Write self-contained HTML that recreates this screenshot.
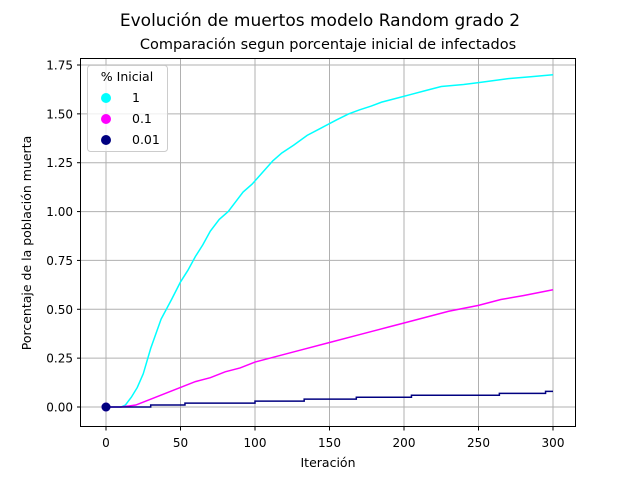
<!DOCTYPE html>
<html><head><meta charset="utf-8"><style>
body{margin:0;background:#fff}
svg{font-family:"DejaVu Sans","Liberation Sans",sans-serif}
</style></head><body>
<svg id="c" width="640" height="480" xmlns="http://www.w3.org/2000/svg">
<rect width="640" height="480" fill="#fff"/>
<text x="320" y="26" font-size="17" text-anchor="middle">Evolución de muertos modelo Random grado 2</text>
<text x="328" y="49" font-size="14.5" text-anchor="middle">Comparación segun porcentaje inicial de infectados</text>
<g id="grid"></g>
<g id="ticks"></g>
<g id="series"></g>
<rect x="80.5" y="58.5" width="495" height="368" fill="none" stroke="#000" stroke-width="1"/>
<text x="328" y="467" font-size="12.5" text-anchor="middle">Iteración</text>
<text transform="translate(31,243) rotate(-90)" font-size="12.5" text-anchor="middle">Porcentaje de la población muerta</text>
<g>
<rect x="87.5" y="65.5" width="80" height="86" rx="3" fill="#fff" fill-opacity="0.8" stroke="#ccc"/>
<text x="127" y="81" font-size="12.5" text-anchor="middle">% Inicial</text>
<circle cx="106" cy="98" r="5" fill="#00ffff"/>
<text x="132" y="102" font-size="12.5">1</text>
<circle cx="106" cy="119" r="5" fill="#ff00ff"/>
<text x="132" y="123" font-size="12.5">0.1</text>
<circle cx="106" cy="140" r="5" fill="#000080"/>
<text x="132" y="144" font-size="12.5">0.01</text>
</g>
</svg>
<script>
const xTicks=[0,50,100,150,200,250,300];
const yTicks=[0,0.25,0.5,0.75,1.0,1.25,1.5,1.75];
const yTickLabels=["0.00","0.25","0.50","0.75","1.00","1.25","1.50","1.75"];
const cyanX=[0,10,13,17,21,25,30,37,44,50,55,60,65,70,76,82,87,92,98,105,112,118,126,135,145,155,163,170,178,185,195,205,215,225,240,250,260,270,285,300];
const cyanY=[0,0,0.01,0.05,0.1,0.17,0.3,0.45,0.55,0.64,0.7,0.77,0.83,0.9,0.96,1.0,1.05,1.1,1.14,1.2,1.26,1.3,1.34,1.39,1.43,1.47,1.5,1.52,1.54,1.56,1.58,1.6,1.62,1.64,1.65,1.66,1.67,1.68,1.69,1.7];
const magX=[0,10,20,30,40,50,60,70,80,90,100,115,130,150,170,190,200,215,230,250,265,280,300];
const magY=[0,0,0.01,0.04,0.07,0.1,0.13,0.15,0.18,0.2,0.23,0.26,0.29,0.33,0.37,0.41,0.43,0.46,0.49,0.52,0.55,0.57,0.6];
const navyX=[0,30,53,100,133,168,205,264,295,300];
const navyY=[0,0.01,0.02,0.03,0.04,0.05,0.06,0.07,0.08,0.08];
const sx=v=>106+v*447/300;
const sy=v=>407-v*342/1.75;
const NS="http://www.w3.org/2000/svg";
function mk(tag,attrs,parent){const e=document.createElementNS(NS,tag);for(const k in attrs)e.setAttribute(k,attrs[k]);document.getElementById(parent).appendChild(e);return e;}
xTicks.forEach(t=>{
 const g=mk('line',{x1:sx(t),x2:sx(t),y1:59,y2:426,stroke:'#b0b0b0','stroke-width':1},'grid');
 
 
 const k=mk('line',{x1:sx(t),x2:sx(t),y1:427,y2:430.5,stroke:'#000'},'ticks');
 
 
 const l=mk('text',{x:sx(t),y:447,'font-size':12,'text-anchor':'middle'},'ticks');l.textContent=t;
 
 
});
yTicks.forEach((t,i)=>{
 const g=mk('line',{x1:81,x2:575,y1:sy(t),y2:sy(t),stroke:'#b0b0b0','stroke-width':1},'grid');
 
 
 const k=mk('line',{x1:77,x2:80.5,y1:sy(t),y2:sy(t),stroke:'#000'},'ticks');
 
 
 const l=mk('text',{x:73,y:sy(t)+4.5,'font-size':12,'text-anchor':'end'},'ticks');l.textContent=yTickLabels[i];
 
 
});
function line(xs,ys,color,step,name){
 let pts=[];
 xs.forEach((x,i)=>{ if(step&&i>0)pts.push(sx(x)+','+sy(ys[i-1])); pts.push(sx(x)+','+sy(ys[i])); });
 const p=mk('polyline',{points:pts.join(' '),fill:'none',stroke:color,'stroke-width':1.5},'series');
 
 
 const c=mk('circle',{cx:sx(xs[0]),cy:sy(ys[0]),r:4.5,fill:color},'series');
 
 
}
line(cyanX,cyanY,'#00ffff',false,'series-1');
line(magX,magY,'#ff00ff',false,'series-0.1');
line(navyX,navyY,'#000080',true,'series-0.01');
</script>
</body></html>
